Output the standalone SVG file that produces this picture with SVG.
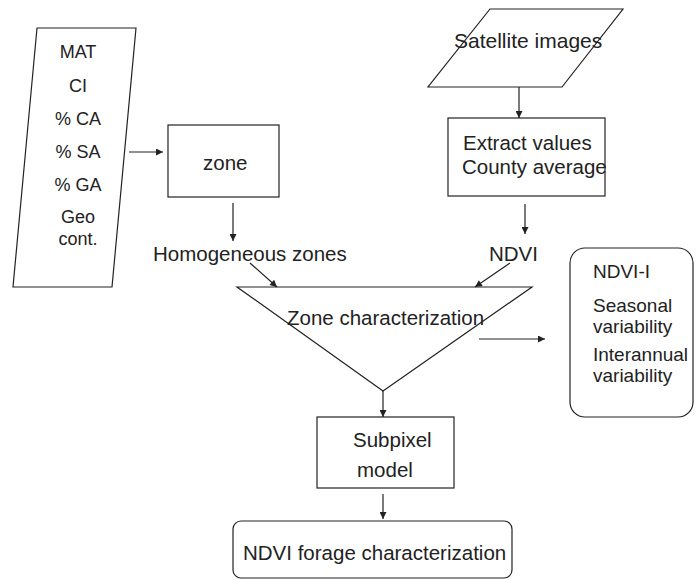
<svg xmlns="http://www.w3.org/2000/svg" width="699" height="580" viewBox="0 0 699 580">
  <style>
    .shape { fill: #fff; stroke: #222; stroke-width: 1.2; }
    .line { fill: none; stroke: #222; stroke-width: 1.2; }
    text { font-family: "Liberation Sans", Arial, sans-serif; fill: #222; }
    .t20 { font-size: 20.5px; }
    .t19 { font-size: 19px; }
    .t18 { font-size: 18px; }
    .mid { text-anchor: middle; }
  </style>
  <defs>
    <marker id="arrow" viewBox="0 0 10 10" refX="10" refY="5" markerWidth="8" markerHeight="7" markerUnits="userSpaceOnUse" orient="auto">
      <path d="M0,0 L10,5 L0,10 z" fill="#222"/>
    </marker>
  </defs>

  <rect width="699" height="580" fill="#fff"/>

  <!-- input variables (parallelogram) -->
  <g id="inputs">
    <polygon class="shape" points="37,28 136,28 112,287 13,287"/>
    <text class="t18 mid" x="78" y="58">MAT</text>
    <text class="t18 mid" x="78" y="92">CI</text>
    <text class="t18 mid" x="78" y="125">% CA</text>
    <text class="t18 mid" x="78" y="158">% SA</text>
    <text class="t18 mid" x="78" y="191">% GA</text>
    <text class="t18 mid" x="78" y="223">Geo</text>
    <text class="t18 mid" x="78" y="245">cont.</text>
  </g>

  <g id="zone">
    <rect class="shape" x="168" y="125" width="111" height="72"/>
    <text class="t20" x="203" y="170">zone</text>
  </g>

  <g id="satellite">
    <polygon class="shape" points="490,9 623,9 562,87 428,87"/>
    <text class="t20" x="454" y="48" style="font-size:21px">Satellite images</text>
  </g>

  <g id="extract">
    <rect class="shape" x="448" y="118" width="157" height="78"/>
    <text class="t20" x="463" y="150">Extract values</text>
    <text class="t20" x="462" y="174">County average</text>
  </g>

  <g id="homogeneous">
    <text class="t20" x="153" y="261">Homogeneous zones</text>
  </g>

  <g id="ndvi">
    <text class="t20" x="489" y="261">NDVI</text>
  </g>

  <g id="characterization">
    <polygon class="shape" points="237,287 532,287 383,391"/>
    <text class="t20" x="287" y="325">Zone characterization</text>
  </g>

  <g id="ndvi-i">
    <rect class="shape" x="570" y="248" width="123" height="169" rx="15" ry="15"/>
    <text class="t19" x="593" y="278">NDVI-I</text>
    <text class="t19" x="593" y="312">Seasonal</text>
    <text class="t19" x="593" y="333">variability</text>
    <text class="t19" x="593" y="361">Interannual</text>
    <text class="t19" x="593" y="382">variability</text>
  </g>

  <g id="subpixel">
    <rect class="shape" x="317" y="417" width="137" height="71"/>
    <text class="t20" x="353" y="447">Subpixel</text>
    <text class="t20" x="357" y="477">model</text>
  </g>

  <g id="forage">
    <rect class="shape" x="233" y="521" width="279" height="57" rx="8" ry="8"/>
    <text class="t20" x="243" y="560">NDVI forage characterization</text>
  </g>

  <!-- connectors -->
  <g id="connectors">
    <line class="line" x1="129" y1="152" x2="163" y2="152" marker-end="url(#arrow)"/>
    <line class="line" x1="233" y1="203" x2="233" y2="241" marker-end="url(#arrow)"/>
    <line class="line" x1="519" y1="87" x2="519" y2="118" marker-end="url(#arrow)"/>
    <line class="line" x1="525" y1="204" x2="525" y2="234" marker-end="url(#arrow)"/>
    <line class="line" x1="250" y1="263" x2="277" y2="287" marker-end="url(#arrow)"/>
    <line class="line" x1="510" y1="263" x2="475" y2="287" marker-end="url(#arrow)"/>
    <line class="line" x1="479" y1="339" x2="545" y2="339" marker-end="url(#arrow)"/>
    <line class="line" x1="383" y1="391" x2="383" y2="417" marker-end="url(#arrow)"/>
    <line class="line" x1="383" y1="494" x2="383" y2="519" marker-end="url(#arrow)"/>
  </g>
</svg>
